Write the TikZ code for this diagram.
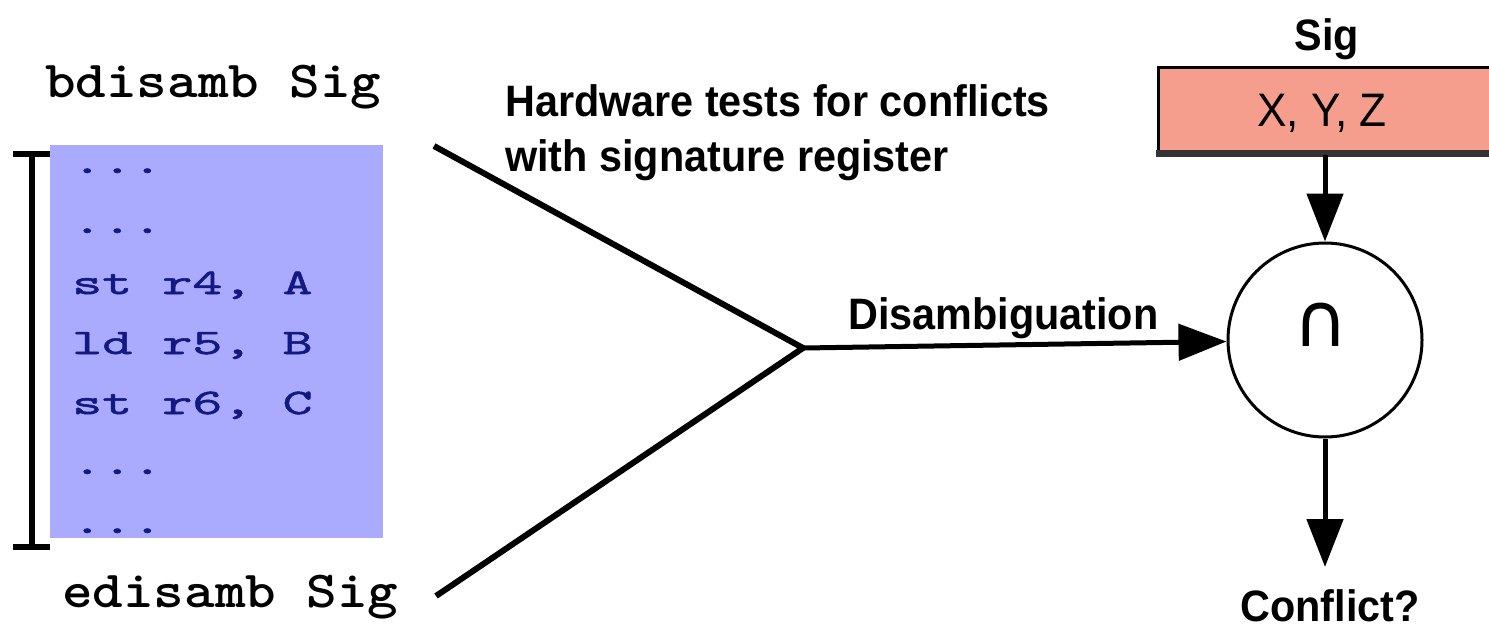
\documentclass[tikz,border=0pt]{standalone}
\usepackage{fontspec}
\usetikzlibrary{arrows.meta}
% label face: slightly condensed bold sans
\newfontfamily\lblfont[FakeStretch=0.94]{Liberation Sans}
% typewriter faces for the code listing and the markers
\newfontfamily\codefont[Extension=.otf,UprightFont=*-regular,FakeStretch=1.59,FakeBold=1.4]{lmmono10}
\newfontfamily\codeboldfont[Extension=.otf,UprightFont=*-bold,FakeStretch=1.12]{lmmonolt10}
\newfontfamily\symfont{DejaVu Sans}
\definecolor{codebg}{RGB}{170,170,255}
\definecolor{codefg}{RGB}{20,25,130}
\definecolor{sigfill}{RGB}{245,158,142}

\begin{document}
\begin{tikzpicture}[x=1pt,y=-1pt,
  lbl/.style={inner sep=0pt,font=\lblfont\bfseries\fontsize{44}{55}\selectfont},
  codeline/.style={anchor=base west,inner sep=0pt,text=codefg,font=\codefont\fontsize{36}{40}\selectfont},
  marker/.style={anchor=base west,inner sep=0pt,font=\codeboldfont\fontsize{52}{56}\selectfont},
  wire/.style={line width=6pt,line join=miter},
  bracket/.style={line width=6pt},
  flow/.style={line width=5pt,-{Triangle[length=48pt,width=36pt]}},
]
\useasboundingbox (0,0) rectangle (1489,633);

% code region
\node[fill=codebg,anchor=north west,inner sep=0pt,minimum width=333pt,minimum height=393pt] (code) at (50,145) {};
\node[codeline] (l1) at (72,173) {...};
\node[codeline] (l2) at (72,233) {...};
\node[codeline] (l3) at (72,294) {st r4, A};
\node[codeline] (l4) at (72,354) {ld r5, B};
\node[codeline] (l5) at (72,414) {st r6, C};
\node[codeline] (l6) at (72,474) {...};
\node[codeline] (l7) at (72,533) {...};

% extent bracket
\coordinate (bt) at (32,154);
\coordinate (bb) at (32,547);
\draw[bracket] (bt) -- (bb);
\draw[bracket] (13,154) -- (50,154);
\draw[bracket] (13,547) -- (50,547);

\node[marker] (bdis) at (45,97) {bdisamb Sig};
\node[marker] (edis) at (62,607) {edisamb Sig};

% converging lines
\coordinate (ta) at (434,146);
\coordinate (ba) at (436,596);
\coordinate (j) at (803,348);
\draw[wire] (ta) -- (j) -- (ba);

\node[lbl,anchor=north west,align=left] (hw) at (505,84) {Hardware tests for conflicts\\with signature register};
\node[lbl,anchor=base west] (dis) at (848,329) {Disambiguation};

% signature register
\node[draw,fill=sigfill,line width=3pt,anchor=north west,inner sep=0pt,minimum width=345pt,minimum height=86pt] (sig) at (1157,66) {};
\fill[black!80] (1156,150) rectangle (1510,157);
\node[inner sep=0pt,anchor=base,font=\lblfont\fontsize{47}{50}\selectfont] (xyz) at (1322,126) {X, Y, Z};
\node[lbl,anchor=base] (siglbl) at (1327,50) {Sig};

% intersection unit
\node[circle,draw,line width=3pt,minimum size=194pt,inner sep=0pt] (circ) at (1325,340) {};
\node[inner sep=0pt,font=\symfont\fontsize{75}{80}\selectfont] (capsym) at (1321,325) {∩};

\draw[flow] (j) -- (circ);
\draw[flow] (circ.north |- sig.south) -- (circ.north);
\coordinate (out) at (1325,567);
\draw[flow] (circ.south) -- (out);
\node[lbl,anchor=base] (conf) at (1330,621) {Conflict?};
\end{tikzpicture}
\end{document}
